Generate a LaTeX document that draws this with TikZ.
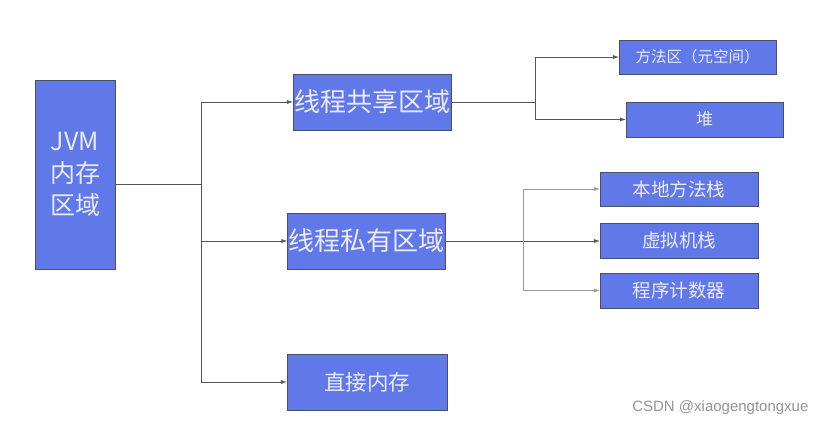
\documentclass[tikz,border=0pt]{standalone}
\usepackage{fontspec}
\newfontfamily\cjk{Noto Sans CJK SC}
\newfontfamily\wmfont{Liberation Sans}
\usetikzlibrary{arrows.meta}
\definecolor{boxBlue}{HTML}{6078E8}
\definecolor{boxEdge}{HTML}{4A4F66}
\definecolor{lineGray}{HTML}{555555}

\begin{document}
\begin{tikzpicture}[x=1pt, y=-1pt,
    box/.style={draw=boxEdge, fill=boxBlue, text=white!92!blue, inner sep=0pt, font=\cjk},
    bigbox/.style={box, minimum width=158pt, minimum height=56pt, font=\cjk\fontsize{26}{30}\selectfont},
    smallbox/.style={box, minimum width=158pt, minimum height=35pt, font=\cjk\fontsize{18.5}{22}\selectfont},
    arrow/.style={draw=lineGray, -{Latex[length=6pt, width=4pt]}},
    plain/.style={draw=lineGray}]
    % --- RAMKA ---
    \useasboundingbox (0,0) rectangle (825,428);

    % --- PARAMETRY ---
    \pgfmathsetmacro{\trunkX}{201}    % pionowa linia od JVM
    \pgfmathsetmacro{\sharedX}{535}   % rozgalezienie obszaru wspolnego
    \pgfmathsetmacro{\privX}{523}     % rozgalezienie obszaru prywatnego

    % Glowny blok
    \node[box, minimum width=80pt, minimum height=189pt, align=center,
          font=\cjk\fontsize{25}{32}\selectfont] (jvm) at (75,174.5) {JVM\\内存\\区域};

    % Poziom drugi
    \node[bigbox] (shared) at (372,102) {线程共享区域};
    \node[bigbox] (private) at (366.5,241) {线程私有区域};
    \node[bigbox, minimum width=160pt, font=\cjk\fontsize{21.5}{26}\selectfont] (direct) at (367,382) {直接内存};

    % Poziom trzeci
    \node[smallbox, minimum width=157pt, minimum height=34pt,
          font=\cjk\fontsize{15.5}{19}\selectfont] (method) at (697.5,57) {方法区（元空间）};
    \node[smallbox, minimum width=157pt, font=\cjk\fontsize{17}{20}\selectfont] (heap) at (704.5,119.5) {堆};
    \node[smallbox, minimum height=34pt] (native) at (679,189) {本地方法栈};
    \node[smallbox] (vmstack) at (679,240.5) {虚拟机栈};
    \node[smallbox] (pc) at (679,290.5) {程序计数器};

    % Punkty rozgalezien
    \coordinate (split) at (\trunkX,184);
    \coordinate (splitShared) at (\sharedX,102);
    \coordinate (splitPriv) at (\privX,241);

    % Polaczenia od JVM
    \draw[plain] (jvm.east |- split) -- (split);
    \draw[arrow] (split) |- (shared.west);
    \draw[arrow] (split) |- (private.west);
    \draw[arrow] (split) |- (direct.west);

    % Obszar wspolny
    \draw[plain] (shared.east) -- (splitShared);
    \draw[arrow] (splitShared) |- (method.west);
    \draw[arrow] (splitShared) |- (heap.west);

    % Obszar prywatny
    \draw[arrow] (private.east) -- (vmstack.west |- private.east);
    \draw[arrow, draw=lineGray!60] (splitPriv) |- (native.west);
    \draw[arrow, draw=lineGray!60] (splitPriv) |- (pc.west);

    % Znak wodny
    \node[font=\wmfont\fontsize{15}{18}\selectfont, text=gray!85, anchor=east] (mark) at (812,408) {CSDN @xiaogengtongxue};
\end{tikzpicture}
\end{document}
